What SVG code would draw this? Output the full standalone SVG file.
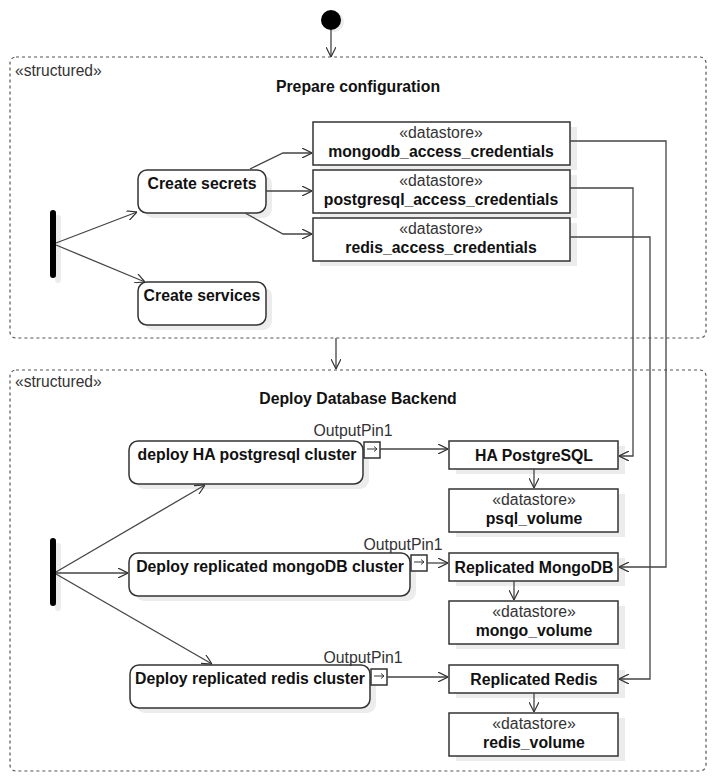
<svg xmlns="http://www.w3.org/2000/svg" width="716" height="779" viewBox="0 0 716 779">
<defs>
<marker id="arr" viewBox="0 0 10 10" refX="10" refY="5" markerWidth="10" markerHeight="10" markerUnits="userSpaceOnUse" orient="auto">
<path d="M0,0 L10,5 L0,10" fill="none" stroke="#333" stroke-width="1.2"/>
</marker>
</defs>
<style>
text{font-family:"Liberation Sans",Arial,sans-serif;font-size:15.8px;fill:#111}
.b{font-weight:bold}
.s{fill:#333}
.m{text-anchor:middle}
.box{fill:#fff;stroke:#333;stroke-width:1.5}
.sh{fill:#ececec;stroke:none}
.grp{fill:none;stroke:#555;stroke-width:1.2;stroke-dasharray:3 3}
.ln{fill:none;stroke:#444;stroke-width:1.3;marker-end:url(#arr)}
</style>
<rect width="716" height="779" fill="#fff"/>

<g id="structured1">
<rect class="grp" x="10" y="57" width="696" height="281" rx="6"/>
<text class="s" x="15" y="76" style="font-size:15.6px">«structured»</text>
<text class="b m" x="358" y="92">Prepare configuration</text>
</g>
<g id="structured2">
<rect class="grp" x="10" y="370" width="696" height="401" rx="6"/>
<text class="s" x="15" y="387" style="font-size:15.6px">«structured»</text>
<text class="b m" x="358" y="404">Deploy Database Backend</text>
</g>

<g id="initial">
<circle cx="334" cy="22" r="10" fill="#ececec"/>
<circle cx="331" cy="20" r="10" fill="#000"/>
</g>

<g id="fork1">
<rect class="sh" x="55" y="215" width="6" height="68" rx="3"/>
<rect x="50" y="210" width="6" height="68" rx="3" fill="#000"/>
</g>
<g id="fork2">
<rect class="sh" x="55" y="543" width="6" height="68" rx="3"/>
<rect x="50" y="538" width="6" height="68" rx="3" fill="#000"/>
</g>

<g id="createSecrets">
<rect class="sh" x="144" y="175" width="128" height="43" rx="9"/>
<rect class="box" x="138" y="170" width="128" height="43" rx="9"/>
<text class="b m" x="202" y="189">Create secrets</text>
</g>
<g id="createServices">
<rect class="sh" x="144" y="287" width="128" height="43" rx="9"/>
<rect class="box" x="138" y="282" width="128" height="43" rx="9"/>
<text class="b m" x="202" y="301">Create services</text>
</g>

<g id="mongoCreds">
<rect class="sh" x="320" y="127" width="257" height="43"/>
<rect class="box" x="313" y="122" width="257" height="43"/>
<text class="s m" x="441" y="138">«datastore»</text>
<text class="b m" x="441" y="157">mongodb_access_credentials</text>
</g>
<g id="pgCreds">
<rect class="sh" x="320" y="175" width="257" height="43"/>
<rect class="box" x="313" y="170" width="257" height="43"/>
<text class="s m" x="441" y="186">«datastore»</text>
<text class="b m" x="441" y="205">postgresql_access_credentials</text>
</g>
<g id="redisCreds">
<rect class="sh" x="320" y="223" width="257" height="43"/>
<rect class="box" x="313" y="218" width="257" height="43"/>
<text class="s m" x="441" y="234">«datastore»</text>
<text class="b m" x="441" y="253">redis_access_credentials</text>
</g>

<g id="deployPg">
<rect class="sh" x="135" y="446" width="234" height="43" rx="9"/>
<rect class="box" x="129" y="441" width="234" height="43" rx="9"/>
<text class="b m" x="247" y="460">deploy HA postgresql cluster</text>
<text class="s m" x="353" y="436">OutputPin1</text>
<rect class="box" x="364" y="442" width="16" height="16"/>
<path d="M367,449 H377 M374,446.5 L377,449 L374,451.5" fill="none" stroke="#333" stroke-width="1"/>
</g>
<g id="deployMongo">
<rect class="sh" x="135" y="558" width="281" height="43" rx="9"/>
<rect class="box" x="129" y="553" width="281" height="43" rx="9"/>
<text class="b m" x="270" y="572">Deploy replicated mongoDB cluster</text>
<text class="s m" x="403" y="550">OutputPin1</text>
<rect class="box" x="411" y="555" width="16" height="16"/>
<path d="M414,562 H424 M421,559.5 L424,562 L421,564.5" fill="none" stroke="#333" stroke-width="1"/>
</g>
<g id="deployRedis">
<rect class="sh" x="136" y="670" width="240" height="43" rx="9"/>
<rect class="box" x="130" y="665" width="240" height="43" rx="9"/>
<text class="b m" x="250" y="684">Deploy replicated redis cluster</text>
<text class="s m" x="363" y="663">OutputPin1</text>
<rect class="box" x="371" y="669" width="16" height="16"/>
<path d="M374,676 H384 M381,673.5 L384,676 L381,678.5" fill="none" stroke="#333" stroke-width="1"/>
</g>

<g id="haPostgres">
<rect class="sh" x="456" y="446" width="169" height="28"/>
<rect class="box" x="449" y="441" width="169" height="28"/>
<text class="b m" x="534" y="461">HA PostgreSQL</text>
</g>
<g id="psqlVolume">
<rect class="sh" x="456" y="494" width="169" height="43"/>
<rect class="box" x="449" y="489" width="169" height="43"/>
<text class="s m" x="534" y="505">«datastore»</text>
<text class="b m" x="534" y="524">psql_volume</text>
</g>
<g id="replMongo">
<rect class="sh" x="456" y="558" width="169" height="28"/>
<rect class="box" x="449" y="553" width="169" height="28"/>
<text class="b m" x="534" y="573">Replicated MongoDB</text>
</g>
<g id="mongoVolume">
<rect class="sh" x="456" y="606" width="169" height="43"/>
<rect class="box" x="449" y="601" width="169" height="43"/>
<text class="s m" x="534" y="617">«datastore»</text>
<text class="b m" x="534" y="636">mongo_volume</text>
</g>
<g id="replRedis">
<rect class="sh" x="456" y="670" width="169" height="28"/>
<rect class="box" x="449" y="665" width="169" height="28"/>
<text class="b m" x="534" y="685">Replicated Redis</text>
</g>
<g id="redisVolume">
<rect class="sh" x="456" y="718" width="169" height="43"/>
<rect class="box" x="449" y="713" width="169" height="43"/>
<text class="s m" x="534" y="729">«datastore»</text>
<text class="b m" x="534" y="748">redis_volume</text>
</g>

<g id="connectors">
<path class="ln" d="M331,30 V57"/>
<path class="ln" d="M336,338 V369"/>
<path class="ln" d="M56,243 L137,212"/>
<path class="ln" d="M56,245 L145,282"/>
<path class="ln" d="M250,169 L283,153 H312"/>
<path class="ln" d="M266,191 H312"/>
<path class="ln" d="M245,213 L283,234 H312"/>
<path class="ln" d="M570,141 H666 V567 H619"/>
<path class="ln" d="M570,188 H633 V456 H619"/>
<path class="ln" d="M570,237 H650 V679 H619"/>
<path class="ln" d="M56,572 L205,485"/>
<path class="ln" d="M56,573 H128"/>
<path class="ln" d="M56,574 L212,664"/>
<path class="ln" d="M380,449 H448"/>
<path class="ln" d="M427,563 H448"/>
<path class="ln" d="M387,677 H448"/>
<path class="ln" d="M534,469 V488"/>
<path class="ln" d="M514,581 V600"/>
<path class="ln" d="M534,693 V712"/>
</g>
</svg>
